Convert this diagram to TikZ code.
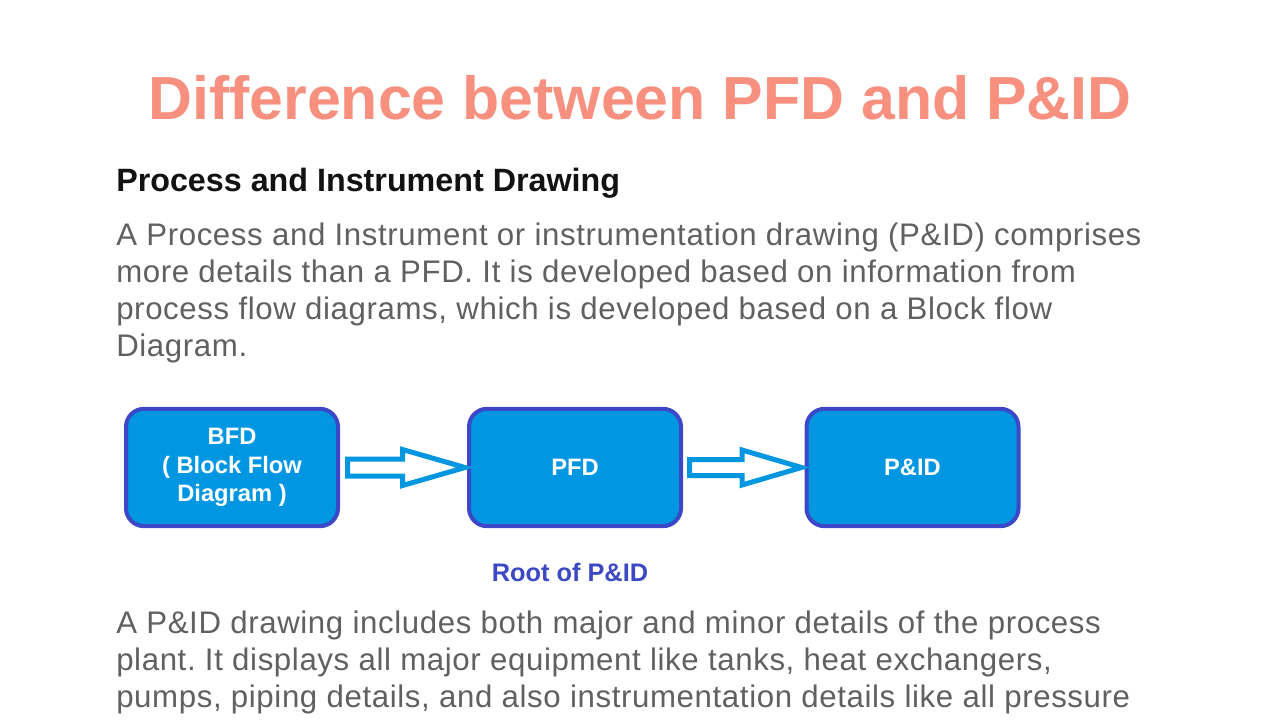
\documentclass[tikz,border=0pt]{standalone}
\usepackage{fontspec}
\setmainfont{Liberation Sans}
\newfontfamily\bodyfont[LetterSpace=2.0]{Liberation Sans}
\usetikzlibrary{calc}
\frenchspacing
\definecolor{titlecol}{HTML}{F8907F}
\definecolor{bodycol}{HTML}{5F6161}
\definecolor{boxfill}{HTML}{0096E1}
\definecolor{boxline}{HTML}{3C48C8}
\definecolor{arrowline}{HTML}{0096E0}
\definecolor{rootcol}{HTML}{3C48C4}
\tikzset{
  bodyline/.style={anchor=base west, inner sep=0pt, text=bodycol, font=\frenchspacing\bodyfont\fontsize{23.4pt}{27pt}\selectfont},
  stepbox/.style={draw=boxline, fill=boxfill, line width=3pt, rounded corners=13.5pt,
    minimum width=159pt, minimum height=88pt, outer sep=0pt, inner sep=0pt,
    text=white, align=center, font=\bfseries\fontsize{17.8pt}{21.5pt}\selectfont},
  blockarrow/.style={draw=arrowline, fill=white, line width=3.75pt, line join=miter}
}
\begin{document}
\begin{tikzpicture}[x=0.75pt,y=-0.75pt]
\useasboundingbox[fill=white] (0,0) rectangle (1280,720);
\node[anchor=base, inner sep=0pt, text=titlecol, font=\bfseries\fontsize{45.6pt}{50pt}\selectfont] (title) at (640,120) {Difference between PFD and P\&ID};
\node[anchor=base west, inner sep=0pt, text=black!93, font=\bfseries\fontsize{24.2pt}{28pt}\selectfont] (head) at (116,192) {Process and Instrument Drawing};
\node[bodyline] (l1) at (116,245) {A Process and Instrument or instrumentation drawing (P\&ID) comprises};
\node[bodyline] (l2) at (116,282) {more details than a PFD. It is developed based on information from};
\node[bodyline] (l3) at (116,319) {process flow diagrams, which is developed based on a Block flow};
\node[bodyline] (l4) at (116,356) {Diagram.};
\node[stepbox] (bfd) at (232,467.5) {BFD\\( Block Flow\\Diagram )};
\node[stepbox] (pfd) at (575,467.5) {PFD};
\node[stepbox] (pid) at (912.5,467.5) {P\&ID};
\draw[blockarrow] ($(bfd.east)+(9.5,-8.5)$) -- ($(bfd.east)+(64.5,-8.5)$) -- ($(bfd.east)+(64.5,-18)$)
  -- ($(pfd.west)+(-4,0)$) -- ($(bfd.east)+(64.5,18)$) -- ($(bfd.east)+(64.5,8.5)$) -- ($(bfd.east)+(9.5,8.5)$) -- cycle;
\draw[blockarrow] ($(pfd.east)+(8.5,-8)$) -- ($(pfd.east)+(61,-8)$) -- ($(pfd.east)+(61,-17.5)$)
  -- ($(pid.west)+(-5,0)$) -- ($(pfd.east)+(61,17.5)$) -- ($(pfd.east)+(61,8)$) -- ($(pfd.east)+(8.5,8)$) -- cycle;
\node[inner sep=0pt, text=rootcol, font=\bfseries\fontsize{19pt}{22pt}\selectfont] (root) at (570,572) {Root of P\&ID};
\node[bodyline] (l5) at (116,633) {A P\&ID drawing includes both major and minor details of the process};
\node[bodyline] (l6) at (116,670) {plant. It displays all major equipment like tanks, heat exchangers,};
\node[bodyline] (l7) at (116,707) {pumps, piping details, and also instrumentation details like all pressure};
\end{tikzpicture}
\end{document}
